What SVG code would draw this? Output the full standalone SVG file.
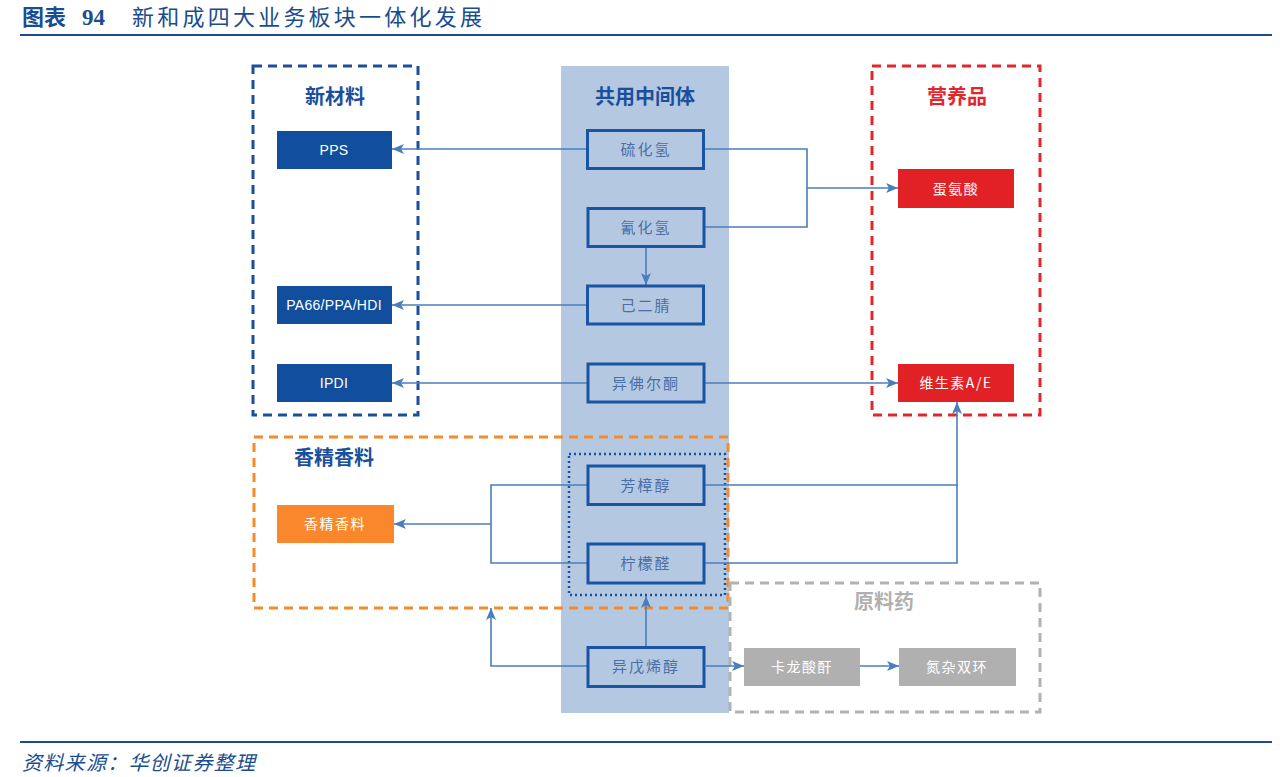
<svg xmlns="http://www.w3.org/2000/svg" width="1280" height="777" viewBox="0 0 1280 777">
<defs>
<marker id="ah" viewBox="0 0 12 10" refX="12" refY="5" markerWidth="12" markerHeight="10" markerUnits="userSpaceOnUse" orient="auto">
<path d="M0,0 L12,5 L0,10 L3,5 Z" fill="#4a7ebb"/>
</marker>
</defs>
<style>
.cjk{font-family:"Noto Sans CJK SC","Noto Sans",sans-serif}
.hdr{font-family:"Noto Sans CJK SC",sans-serif;font-size:20px;font-weight:bold;text-anchor:middle}
.mid rect{fill:none;stroke:#1a55a5;stroke-width:3}
.mid text{font-family:"Noto Sans CJK SC",sans-serif;font-size:15px;fill:#4a6ea8;text-anchor:middle;letter-spacing:2px}
.sol text{font-family:"Noto Sans CJK SC","Liberation Sans",sans-serif;font-size:14px;fill:#ffffff;text-anchor:middle;letter-spacing:1.5px}
.sol text.lat{font-family:"Liberation Sans",sans-serif;letter-spacing:0.3px}
.conn path{fill:none;stroke:#4a7ebb;stroke-width:1.6}
.arr{marker-end:url(#ah)}
</style>
<rect width="1280" height="777" fill="#ffffff"/>

<!-- Title -->
<g id="title">
<text x="22" y="25" class="cjk" font-size="22" font-weight="bold" fill="#1a4d8f">图表</text>
<text x="82" y="25" font-family="Liberation Serif,serif" font-size="23" font-weight="bold" fill="#1a4d8f">94</text>
<text x="132" y="25" class="cjk" font-size="22" fill="#1a4d8f" textLength="350" lengthAdjust="spacing">新和成四大业务板块一体化发展</text>
<line x1="20" y1="35" x2="1272" y2="35" stroke="#1a4d8f" stroke-width="2"/>
</g>

<!-- middle column -->
<rect id="column" x="561" y="66" width="168" height="647" fill="#b4c9e1"/>

<!-- group frames -->
<g id="grp-new-materials">
<rect x="253" y="66" width="165" height="349" fill="none" stroke="#1a4f9c" stroke-width="3" stroke-dasharray="9,6"/>
<text x="335" y="104" class="hdr" fill="#1a4f9c">新材料</text>
</g>
<g id="grp-nutrition">
<rect x="872" y="66" width="168" height="349" fill="none" stroke="#e3262b" stroke-width="3" stroke-dasharray="9,6"/>
<text x="957" y="104" class="hdr" fill="#e3262b">营养品</text>
</g>
<g id="grp-intermediates-title">
<text x="645" y="104" class="hdr" fill="#1a4f9c">共用中间体</text>
</g>
<g id="grp-flavor">
<rect x="254" y="437" width="474" height="171" fill="none" stroke="#f68b2c" stroke-width="3" stroke-dasharray="9,6"/>
<text x="334" y="465" class="hdr" fill="#1a4f9c">香精香料</text>
</g>
<g id="grp-api">
<rect x="730" y="583" width="310" height="129" fill="none" stroke="#b2b2b2" stroke-width="3" stroke-dasharray="9,6"/>
<text x="884" y="609" class="hdr" fill="#b0b0b0">原料药</text>
</g>
<g id="grp-dotted">
<rect x="569" y="454" width="156" height="141" fill="none" stroke="#1a4f9c" stroke-width="2.5" stroke-dasharray="2,3"/>
</g>

<!-- connectors -->
<g id="connectors" class="conn">
<path class="arr" d="M587,149 H392"/>
<path d="M704,149 H807 V227 H705"/>
<path class="arr" d="M807,188 H898"/>
<path class="arr" d="M646,247 V285"/>
<path class="arr" d="M587,305 H392"/>
<path class="arr" d="M587,383 H392"/>
<path class="arr" d="M705,383 H898"/>
<path d="M705,485 H957 V563 H705"/>
<path class="arr" d="M957,485 V402"/>
<path d="M587,485 H491 V563 H587"/>
<path class="arr" d="M491,524 H394"/>
<path class="arr" d="M646,647 V596"/>
<path class="arr" d="M587,666 H491 V608"/>
<path class="arr" d="M706,666 H744"/>
<path class="arr" d="M860,666 H899"/>
</g>

<!-- intermediate nodes -->
<g class="mid">
<g id="n-h2s"><rect x="587.5" y="130.5" width="116" height="38"/><text x="646" y="155">硫化氢</text></g>
<g id="n-hcn"><rect x="588" y="208.5" width="116" height="38"/><text x="646" y="233">氰化氢</text></g>
<g id="n-adn"><rect x="587.5" y="286" width="116" height="38"/><text x="646" y="311">己二腈</text></g>
<g id="n-ipo"><rect x="588" y="364" width="116" height="38"/><text x="646" y="389">异佛尔酮</text></g>
<g id="n-lin"><rect x="588" y="466" width="116" height="38.5"/><text x="646" y="491">芳樟醇</text></g>
<g id="n-cit"><rect x="588" y="544" width="116" height="39"/><text x="646" y="569">柠檬醛</text></g>
<g id="n-pre"><rect x="588" y="647.5" width="116" height="39"/><text x="646" y="672">异戊烯醇</text></g>
</g>

<!-- solid product nodes -->
<g class="sol">
<g id="n-pps"><rect x="277" y="131" width="115" height="38" fill="#124e9e"/><text class="lat" x="334" y="155">PPS</text></g>
<g id="n-pa66"><rect x="277" y="286" width="115" height="38" fill="#124e9e"/><text class="lat" x="334" y="310">PA66/PPA/HDI</text></g>
<g id="n-ipdi"><rect x="277" y="364" width="115" height="38" fill="#124e9e"/><text class="lat" x="334" y="388" letter-spacing="2">IPDI</text></g>
<g id="n-met"><rect x="898" y="169" width="116" height="39" fill="#e22127"/><text x="956" y="194">蛋氨酸</text></g>
<g id="n-vit"><rect x="898" y="364" width="116" height="38" fill="#e22127"/><text x="956" y="388">维生素A/E</text></g>
<g id="n-flav"><rect x="277" y="505" width="117" height="38" fill="#fb872c"/><text x="335" y="529">香精香料</text></g>
<g id="n-car"><rect x="744" y="648" width="116" height="38" fill="#b0b0b0"/><text x="802" y="672">卡龙酸酐</text></g>
<g id="n-aza"><rect x="899" y="648" width="117" height="38" fill="#b0b0b0"/><text x="957" y="672">氮杂双环</text></g>
</g>

<!-- footer -->
<g id="footer">
<line x1="20" y1="742" x2="1272" y2="742" stroke="#1a4d8f" stroke-width="2"/>
<text x="22" y="770" class="cjk" font-size="20" font-style="italic" fill="#1a4d8f" textLength="233" lengthAdjust="spacing">资料来源：华创证券整理</text>
</g>
</svg>
